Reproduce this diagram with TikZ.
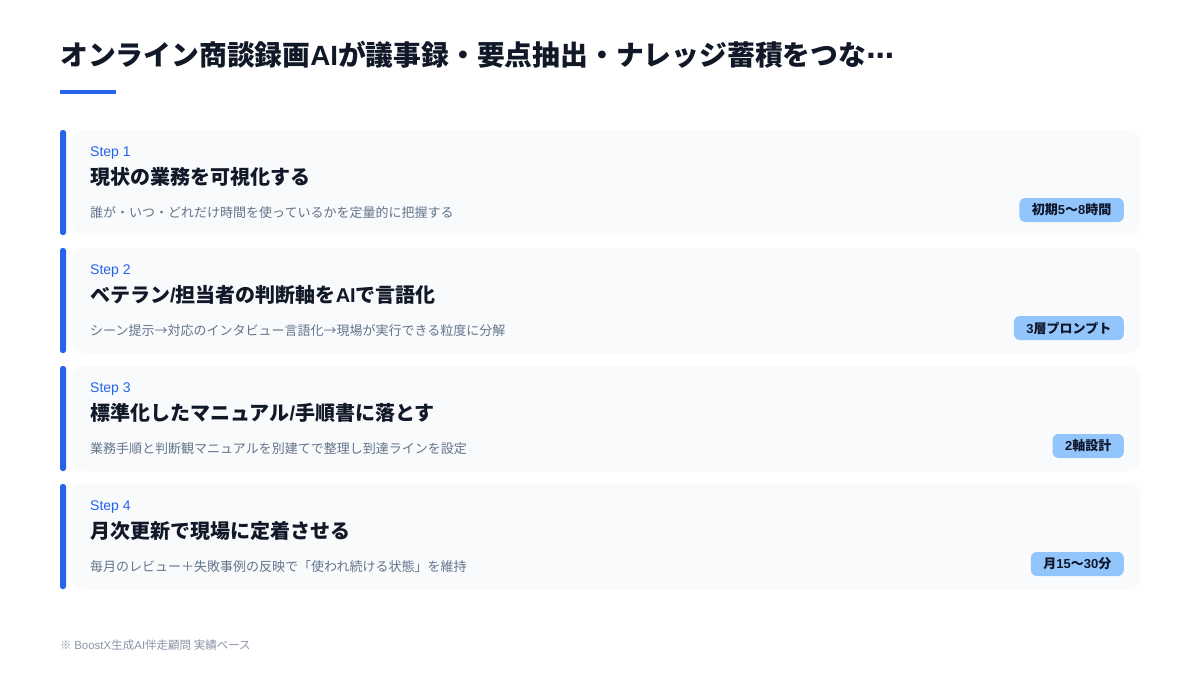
\documentclass[tikz,border=0pt]{standalone}
\usepackage{fontspec}
\setmainfont{Noto Sans CJK JP}
\newfontfamily\latin{Liberation Sans}
\newfontfamily\dejav{DejaVu Sans}
\definecolor{accent}{HTML}{2563EB}
\definecolor{cardbg}{HTML}{F8FAFC}
\definecolor{titlec}{HTML}{111827}
\definecolor{descc}{HTML}{64748B}
\definecolor{badgebg}{HTML}{93C5FD}
\definecolor{badgetx}{HTML}{0F172A}
\definecolor{notec}{HTML}{8B93A7}
\tikzset{
  card/.style={fill=cardbg, draw=none, rounded corners=11pt},
  bar/.style={fill=accent, draw=none, rounded corners=2.5pt},
  steplabel/.style={anchor=base west, inner sep=0pt, text=accent, font=\latin\fontsize{14}{16}\selectfont},
  steptitle/.style={anchor=base west, inner sep=0pt, text=titlec, font=\bfseries\fontsize{20}{24}\selectfont},
  stepdesc/.style={anchor=base west, inner sep=0pt, text=descc, font=\fontsize{13}{15}\selectfont},
  badge/.style={anchor=east, fill=badgebg, text=badgetx, rounded corners=6pt, inner xsep=12.5pt, inner ysep=0pt, minimum height=24pt, font=\bfseries\fontsize{13}{15}\selectfont},
}
\newcommand\lt[1]{{\latin #1}}
\newcommand\mkcard[5]{%
  \path[card] (72,#2) rectangle (1140,#2+105);
  \path[bar] (60,#2) rectangle (66,#2+105);
  \node[steplabel] (lab#1) at (90,#2+26) {Step #1};
  \node[steptitle] (tit#1) at (90,#2+54) {#3};
  \node[stepdesc] (des#1) at (90,#2+87) {#4};
  \node[badge] (bad#1) at (1124,#2+80) {#5};
}
\begin{document}
\begin{tikzpicture}[x=1pt,y=-1pt]
\path[fill=white] (0,0) rectangle (1200,675);
\useasboundingbox (0,0) rectangle (1200,675);
\node[anchor=base west, inner sep=0pt, text=titlec, font=\bfseries\fontsize{27.8}{32}\selectfont] (title) at (60,65) {オンライン商談録画\lt{AI}が議事録・要点抽出・ナレッジ蓄積をつな{\dejav ⋯}};
\path[fill=accent] (60,90) rectangle (116,94);
\mkcard{1}{130}{現状の業務を可視化する}{誰が・いつ・どれだけ時間を使っているかを定量的に把握する}{初期\lt{5}〜\lt{8}時間}
\mkcard{2}{248}{ベテラン\lt{/}担当者の判断軸を\lt{AI}で言語化}{シーン提示→対応のインタビュー言語化→現場が実行できる粒度に分解}{\lt{3}層プロンプト}
\mkcard{3}{366}{標準化したマニュアル\lt{/}手順書に落とす}{業務手順と判断観マニュアルを別建てで整理し到達ラインを設定}{\lt{2}軸設計}
\mkcard{4}{484}{月次更新で現場に定着させる}{毎月のレビュー＋失敗事例の反映で「使われ続ける状態」を維持}{月\lt{15}〜\lt{30}分}
\node[anchor=base west, inner sep=0pt, text=notec, font=\fontsize{11.5}{13}\selectfont] (note) at (60,649) {※ \lt{BoostX}生成\lt{AI}伴走顧問 実績ベース};
\end{tikzpicture}
\end{document}
